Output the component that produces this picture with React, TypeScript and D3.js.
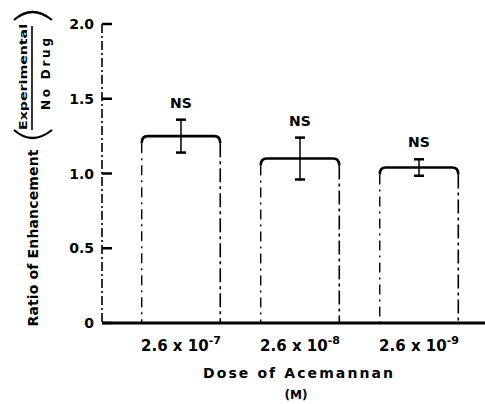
import React from "react";
import * as d3 from "d3";

// Values
const doses = ["2.6 x 10|-7", "2.6 x 10|-8", "2.6 x 10|-9"];
const ratios = [1.25, 1.1, 1.04];
const errors = [0.11, 0.14, 0.055];
const marks = ["NS", "NS", "NS"];
const yTicks = [0, 0.5, 1.0, 1.5, 2.0];
const yTickLabels = ["0", "0.5", "1.0", "1.5", "2.0"];

const W = 485;
const H = 404;
const font = "'DejaVu Sans', sans-serif";

const App = () => {
  const axisX = 102;
  const y = d3.scaleLinear().domain([0, 2]).range([323, 24]);
  const x = d3
    .scaleBand<string>()
    .domain(doses)
    .range([106, 494])
    .paddingInner(0.34)
    .paddingOuter(0.3);

  const base = y(0);

  return (
    <svg
      width={W}
      height={H}
      style={{ position: "absolute", left: 0, top: 0, background: "#fff" }}
      fontFamily={font}
      fontWeight="bold"
    >
      {/* y axis */}
      <line
        x1={axisX}
        x2={axisX}
        y1={y(2)}
        y2={base}
        stroke="#000"
        strokeWidth={1.6}
        strokeDasharray="9,3,2,3"
      />
      {yTicks.map((t, i) => (
        <g key={t}>
          <line
            x1={axisX}
            x2={axisX + 10}
            y1={y(t)}
            y2={y(t)}
            stroke="#000"
            strokeWidth={2.5}
          />
          <text
            x={axisX - 8}
            y={y(t) + 5}
            textAnchor="end"
            fontSize={14}
            fill="#000"
          >
            {yTickLabels[i]}
          </text>
        </g>
      ))}

      {/* bars: open at the bottom, dashed sides, heavy top */}
      {doses.map((d, i) => {
        const x0 = x(d)!;
        const x1 = x0 + x.bandwidth();
        const top = y(ratios[i]);
        const cx = x0 + x.bandwidth() / 2;
        const hi = y(ratios[i] + errors[i]);
        const lo = y(ratios[i] - errors[i]);
        return (
          <g key={d}>
            <path
              d={`M${x0},${top + 7} Q${x0},${top} ${x0 + 6},${top} L${x1 - 6},${top} Q${x1},${top} ${x1},${top + 7}`}
              fill="none"
              stroke="#000"
              strokeWidth={2.6}
            />
            <line
              x1={x0}
              x2={x0}
              y1={top + 7}
              y2={base}
              stroke="#000"
              strokeWidth={1.4}
              strokeDasharray="10,5,2,5"
            />
            <line
              x1={x1}
              x2={x1}
              y1={top + 7}
              y2={base}
              stroke="#000"
              strokeWidth={1.6}
              strokeDasharray="14,4,3,4"
            />
            <line x1={cx} x2={cx} y1={hi} y2={lo} stroke="#000" strokeWidth={1.5} />
            <line x1={cx - 5} x2={cx + 5} y1={hi} y2={hi} stroke="#000" strokeWidth={2.5} />
            <line x1={cx - 5} x2={cx + 5} y1={lo} y2={lo} stroke="#000" strokeWidth={2.5} />
            <text x={cx} y={hi - 12} textAnchor="middle" fontSize={14} fill="#000">
              {marks[i]}
            </text>
            <text x={cx} y={base + 28} textAnchor="middle" fontSize={15} fill="#000">
              {d.split("|")[0]}
              <tspan dy={-7} fontSize={11}>
                {d.split("|")[1]}
              </tspan>
            </text>
          </g>
        );
      })}

      {/* x axis */}
      <line x1={axisX} x2={W} y1={base} y2={base} stroke="#000" strokeWidth={3} />

      <text
        x={298}
        y={378}
        textAnchor="middle"
        fontSize={14}
        fill="#000"
        textLength={190}
        lengthAdjust="spacing"
      >
        Dose of Acemannan
      </text>
      <text x={296} y={399} textAnchor="middle" fontSize={12} fill="#000">
        (M)
      </text>

      {/* y axis title */}
      <text
        transform="translate(38,238) rotate(-90)"
        textAnchor="middle"
        fontSize={14}
        fill="#000"
        textLength={177}
        lengthAdjust="spacing"
      >
        Ratio of Enhancement
      </text>
      <path d="M14,130 Q32,146 52,130" fill="none" stroke="#000" strokeWidth={2.2} />
      <path d="M14,20 Q32,4 52,20" fill="none" stroke="#000" strokeWidth={2.2} />
      <text
        transform="translate(27,77) rotate(-90)"
        textAnchor="middle"
        fontSize={11}
        fill="#000"
        textLength={106}
        lengthAdjust="spacingAndGlyphs"
      >
        Experimental
      </text>
      <line x1={32} x2={32} y1={26} y2={130} stroke="#000" strokeWidth={1.6} />
      <text
        transform="translate(50,74) rotate(-90)"
        textAnchor="middle"
        fontSize={12}
        fill="#000"
        textLength={72}
        lengthAdjust="spacing"
      >
        No Drug
      </text>
    </svg>
  );
};

export default App;
